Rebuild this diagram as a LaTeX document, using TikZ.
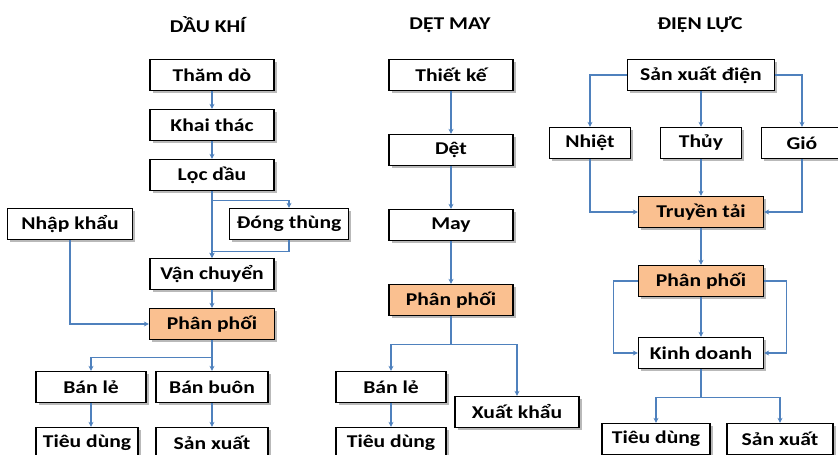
\documentclass[tikz,border=0pt]{standalone}
\usepackage{fontspec}
\setmainfont{Carlito}[FakeStretch=1.2]
\usepackage{tikz}
\usetikzlibrary{shapes.geometric, arrows.meta, shadows, positioning}
\usepackage{xcolor}
\definecolor{linkblue}{RGB}{79,129,189}
\definecolor{peach}{RGB}{250,192,144}
\tikzset{
	box/.style={rectangle,draw=black,line width=1.3pt,fill=white,minimum height=31pt,inner sep=2pt,
		font=\bfseries\fontsize{18}{20}\selectfont,
		drop shadow={shadow xshift=2.5pt,shadow yshift=-2.5pt,fill=black!50,opacity=0.55}},
	hot/.style={box,fill=peach},
	title/.style={font=\bfseries\fontsize{18}{20}\selectfont},
	arr/.style={draw=linkblue,line width=1.1pt,-{Stealth[length=5pt,width=5pt]}}
}
\begin{document}
\begin{tikzpicture}[x=1pt,y=1pt,node distance=50pt]
			\useasboundingbox (0,0) rectangle (838,455);
			% DAU KHI
			\node (dk) [title] at (208,430) {DẦU KHÍ};
			\node (tham) [box,minimum width=124pt] at (212,380) {Thăm dò};
			\node (khai) [box,minimum width=124pt,below of=tham] {Khai thác};
			\node (loc) [box,minimum width=124pt,below of=khai] {Lọc dầu};
			\node (van) [box,minimum width=124pt,below of=loc,yshift=-49pt] {Vận chuyển};
			\node (phan) [hot,minimum width=125pt,below of=van] {Phân phối};
			\node (nhap) [box,minimum width=125pt] at (70,231) {Nhập khẩu};
			\node (dong) [box,minimum width=119pt] at (289,231) {Đóng thùng};
			\node (ble) [box,minimum width=110pt] at (91,68) {Bán lẻ};
			\node (bbuon) [box,minimum width=112pt] at (212,68) {Bán buôn};
			\node (tdung) [box,minimum width=102pt] at (87,12) {Tiêu dùng};
			\node (sxuat) [box,minimum width=112pt,below of=bbuon,yshift=-6pt] {Sản xuất};
			\draw [arr](tham) -- (khai);
			\draw [arr](khai) -- (loc);
			\draw [arr](loc) -- (van);
			\draw [arr](loc.south) -- ++(0,-9pt) -| (dong.north);
			\draw [arr](dong.south) -- ++(0,-11pt) -| (van.north);
			\draw [arr](van) -- (phan);
			\draw [arr](nhap) |- (phan);
			\draw [arr](phan.south) -- ++(0,-17.5pt) -| (ble.north);
			\draw [arr](phan.south) -- ++(0,-17.5pt) -| (bbuon.north);
			\draw [arr](ble.south) -- (ble.south |- tdung.north);
			\draw [arr](bbuon) -- (sxuat);
			% DET MAY
			\node (dm) [title] at (450,430) {DỆT MAY};
			\node (thiet) [box,minimum width=124pt] at (451,380) {Thiết kế};
			\node (det) [box,minimum width=124pt,below of=thiet,node distance=75pt] {Dệt};
			\node (may) [box,minimum width=124pt,below of=det,node distance=75pt] {May};
			\node (pp2) [hot,minimum width=124pt,below of=may,node distance=75pt] {Phân phối};
			\node (ble2) [box,minimum width=110pt] at (391,68) {Bán lẻ};
			\node (td2) [box,minimum width=110pt,below of=ble2,yshift=-6pt] {Tiêu dùng};
			\node (xk) [box,minimum width=124pt] at (517,43) {Xuất khẩu};
			\draw [arr](thiet) -- (det);
			\draw [arr](det) -- (may);
			\draw [arr](may) -- (pp2);
			\draw [arr](pp2.south) -- ++(0,-28.5pt) -| (ble2.north);
			\draw [arr](pp2.south) -- ++(0,-28.5pt) -| (xk.north);
			\draw [arr](ble2) -- (td2);
			% DIEN LUC
			\node (dl) [title] at (700,430) {ĐIỆN LỰC};
			\node (sxd) [box,minimum width=147pt] at (701,380) {Sản xuất điện};
			\node (nhiet) [box,minimum width=81pt] at (590,312) {Nhiệt};
			\node (thuy) [box,minimum width=81pt] at (701,312) {Thủy};
			\node (gio) [box,minimum width=81pt] at (802,312) {Gió};
			\node (tt) [hot,minimum width=125pt] at (701,243) {Truyền tải};
			\node (pp3) [hot,minimum width=125pt,below of=tt,yshift=-19pt] {Phân phối};
			\node (kd) [box,minimum width=125pt,below of=pp3,yshift=-22pt] {Kinh doanh};
			\node (td3) [box,minimum width=108pt] at (656,16) {Tiêu dùng};
			\node (sx3) [box,minimum width=106pt] at (780,16) {Sản xuất};
			\draw [arr](sxd) -| (nhiet);
			\draw [arr](sxd) -- (thuy);
			\draw [arr](sxd) -| (gio);
			\draw [arr](nhiet) |- (tt);
			\draw [arr](thuy) -- (tt);
			\draw [arr](gio) |- (tt);
			\draw [arr](tt) -- (pp3);
			\draw [arr](pp3.west) -- ++(-24pt,0) |- (kd.west);
			\draw [arr](pp3.east) -- ++(22pt,0) |- (kd.east);
			\draw [arr](pp3) -- (kd);
			\draw [arr](kd.south) -- ++(0,-28.5pt) -| (td3.north);
			\draw [arr](kd.south) -- ++(0,-28.5pt) -| (sx3.north);
\end{tikzpicture}
\end{document}
